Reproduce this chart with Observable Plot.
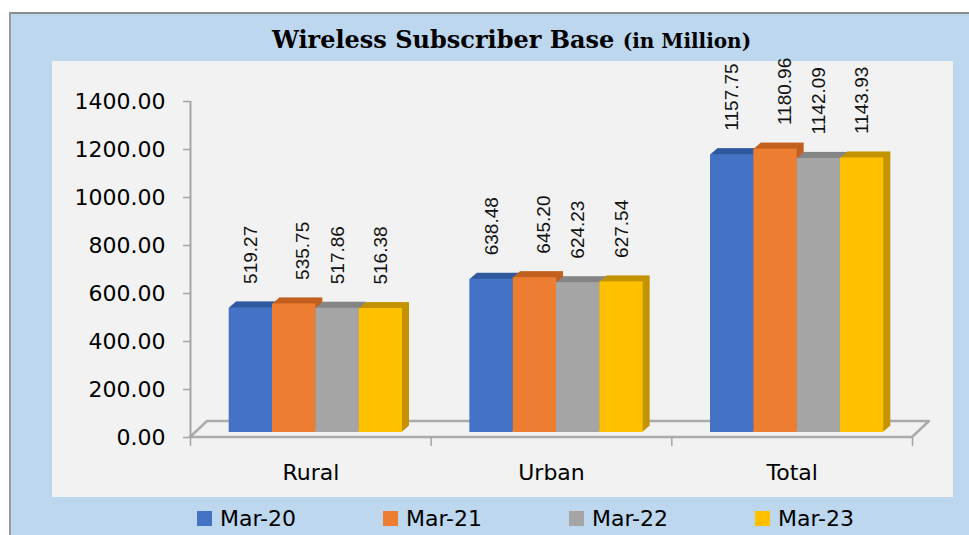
<!DOCTYPE html>
<html><head><meta charset="utf-8">
<script src="https://cdn.jsdelivr.net/npm/d3@7"></script>
<script src="https://cdn.jsdelivr.net/npm/@observablehq/plot@0.6"></script>
<style>
html,body{margin:0;padding:0;background:#fff;}
body{width:969px;height:535px;overflow:hidden;position:relative;font-family:"DejaVu Sans",sans-serif;}
#frame{position:absolute;left:9px;top:12px;width:980px;height:540px;background:#BDD7EE;border-left:2px solid #9a9a9a;border-top:2px solid #8c8c8c;}
#title{position:absolute;left:52px;width:919px;top:25px;text-align:center;font-family:"DejaVu Serif",serif;font-weight:bold;font-size:24px;line-height:30px;color:#000;white-space:nowrap;}
#title small{font-size:20px;}
#chart{position:absolute;left:52px;top:61px;width:901px;height:436px;background:#F2F2F2;}
#legend .item{position:absolute;top:506px;height:24px;display:flex;align-items:center;font-size:22px;color:#000;white-space:nowrap;}
#legend .sw{width:15px;height:15px;margin-right:8px;}
g[aria-label="y-axis"] .tick line, g[aria-label="y-axis"] line{stroke:#A6A6A6;stroke-width:1.5px;}
g[aria-label="y-axis tick"]{stroke:#A6A6A6;stroke-width:1.5px;}
</style></head><body>
<div id="frame"></div>
<div id="title">Wireless Subscriber Base <small>(in Million)</small></div>
<div id="chart"></div>
<div id="legend"></div>
<script>
const categories = ["Rural", "Urban", "Total"];
const periods = ["Mar-20", "Mar-21", "Mar-22", "Mar-23"];
const mar20 = [519.27, 638.48, 1157.75];
const mar21 = [535.75, 645.20, 1180.96];
const mar22 = [517.86, 624.23, 1142.09];
const mar23 = [516.38, 627.54, 1143.93];
const yTicks = [0, 200, 400, 600, 800, 1000, 1200, 1400];
const colors = ["#4472C4", "#ED7D31", "#A5A5A5", "#FFC000"];
const sideColors = ["#30589F", "#C2601F", "#858585", "#C49300"];

const series = [mar20, mar21, mar22, mar23];
const BW = 0.18;           // bar width in band units
const table = [];
categories.forEach((c, ci) => {
  series.forEach((vals, pi) => {
    const x1 = ci - 2 * BW + pi * BW;
    table.push({category: c, ci, period: periods[pi], pi, value: vals[ci], x1, x2: x1 + BW, xc: x1 + BW / 2});
  });
});

const BDX = 5, BDY = -5;     // bar front offset (px)
const DEPTH = 7;             // bar depth (px)
const FX = 17, FY = 16;      // floor depth (px)

const floorMark = (index, scales, values, dims) => {
  const x0 = dims.marginLeft, x1 = dims.width - dims.marginRight;
  const y0 = (scales && scales.y) ? scales.y(0) : dims.height - dims.marginBottom;
  return d3.create("svg:path")
    .attr("d", `M${x0},${y0}L${x1},${y0}L${x1 + FX},${y0 - FY}L${x0 + FX},${y0 - FY}Z`)
    .attr("fill", "#F2F2F2").attr("stroke", "#ABABAB").attr("stroke-width", 2.5)
    .attr("stroke-linejoin", "round").node();
};

const sideMarks = [];
for (let s = 0; s < periods.length; s++) {
  for (let k = 1; k <= DEPTH; k++) {
    sideMarks.push(Plot.rectY(table.filter(d => d.pi === s), {
      x1: "x1", x2: "x2", y1: () => 0, y2: "value",
      fill: sideColors[s], dx: BDX + k, dy: BDY - k * 6 / 7
    }));
  }
}

const chart = Plot.plot({
  width: 901, height: 436,
  marginLeft: 138, marginRight: 41, marginTop: 40, marginBottom: 60,
  style: {background: "transparent", fontFamily: "DejaVu Sans", fontSize: "22px", color: "#000", overflow: "visible"},
  x: {domain: [-0.5, 2.5], ticks: [0, 1, 2], tickFormat: i => categories[i], tickSize: 0, tickPadding: 27, label: null},
  y: {domain: [0, 1400], ticks: yTicks, tickFormat: d => d.toFixed(2), tickSize: 7, tickPadding: 18, label: null},
  color: {domain: periods, range: colors},
  marks: [
    floorMark,
    Plot.ruleX([-0.5], {stroke: "#A6A6A6", strokeWidth: 2}),
    Plot.ruleX([-0.5, 0.5, 1.5, 2.5], {y1: () => 0, y2: () => 0, insetBottom: -9, stroke: "#A6A6A6", strokeWidth: 1.5}),
    ...sideMarks,
    Plot.rectY(table, {x1: "x1", x2: "x2", y1: () => 0, y2: "value", fill: "period", dx: BDX, dy: BDY}),
    Plot.text(table.filter(d => d.pi !== 1), {x: "xc", y: "value", text: d => d.value.toFixed(2), rotate: -90, textAnchor: "start",
      dx: BDX, dy: BDY - 24, fontSize: 19, fontFamily: "Liberation Sans", fill: "#111"}),
    Plot.text(table.filter(d => d.pi === 1), {x: "xc", y: "value", text: d => d.value.toFixed(2), rotate: -90, textAnchor: "start",
      dx: BDX + 9, dy: BDY - 24, fontSize: 19, fontFamily: "Liberation Sans", fill: "#111"})
  ]
});
document.getElementById("chart").appendChild(chart);

const legend = document.getElementById("legend");
periods.forEach((p, i) => {
  const item = document.createElement("div");
  item.className = "item";
  item.style.left = (197 + i * 186) + "px";
  item.innerHTML = `<div class="sw" style="background:${colors[i]}"></div><span>${p}</span>`;
  legend.appendChild(item);
});
</script>
</body></html>
